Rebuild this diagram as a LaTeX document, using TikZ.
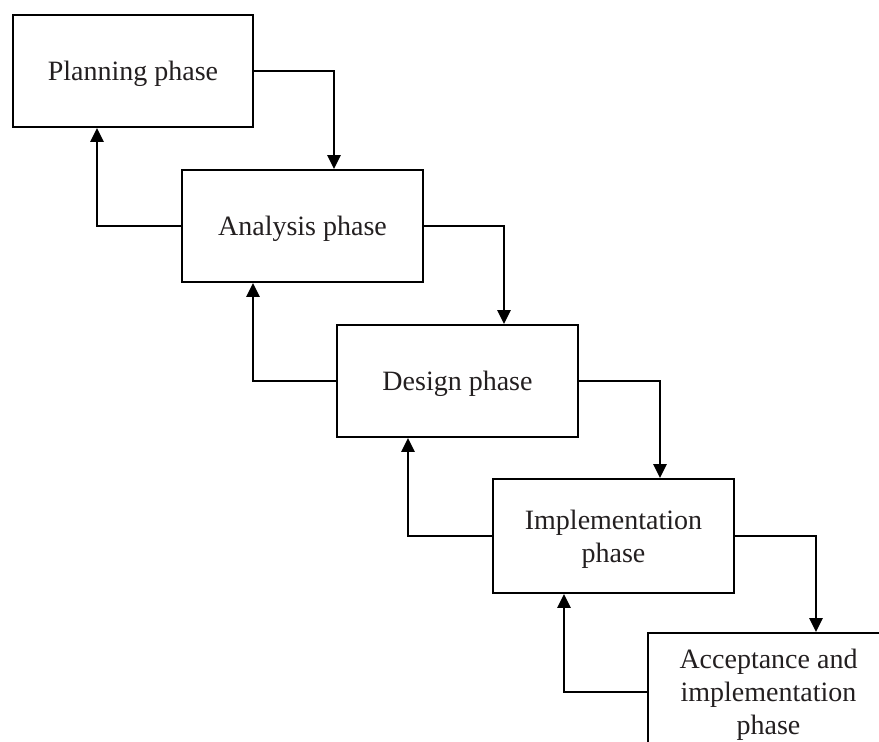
\documentclass[tikz,border=0pt]{standalone}
\usepackage{fontspec}
\setmainfont{Liberation Serif}
\usetikzlibrary{arrows.meta}
\definecolor{textgray}{HTML}{231F20}
\begin{document}
\begin{tikzpicture}[x=1pt,y=-1pt,
  phasebox/.style={draw=black, line width=1.9pt, fill=white,
    minimum width=241pt, minimum height=112pt, inner sep=0pt,
    text depth=0pt, align=center, text=textgray,
    font=\fontsize{28}{33}\selectfont},
  flow/.style={line width=2.7pt, -{Triangle[width=13pt,length=14pt]}}]
\useasboundingbox (0,0) rectangle (879,742);
\clip (0,0) rectangle (879,742);

% phases of the waterfall
\node[phasebox, minimum width=240pt] (plan) at (133,71) {Planning phase};
\node[phasebox] (ana) at (302.5,226) {Analysis phase};
\node[phasebox] (des) at (457.5,381) {Design phase};
\node[phasebox, minimum height=114pt] (imp) at (613.5,536) {Implementation\\phase};
\node[phasebox, minimum height=118pt] (acc) at (768.5,692) {Acceptance and\\implementation\\phase};

% forward flow
\draw[flow] (plan.east) -| ([xshift=31.5pt]ana.north);
\draw[flow] (ana.east) -| ([xshift=46.5pt]des.north);
\draw[flow] (des.east) -| ([xshift=46.5pt]imp.north);
\draw[flow] (imp.east) -| ([xshift=47.5pt]acc.north);

% feedback flow
\draw[flow] (ana.west) -| ([xshift=-36pt]plan.south);
\draw[flow] (des.west) -| ([xshift=-49.5pt]ana.south);
\draw[flow] (imp.west) -| ([xshift=-49.5pt]des.south);
\draw[flow] (acc.west) -| ([xshift=-49.5pt]imp.south);
\end{tikzpicture}
\end{document}
